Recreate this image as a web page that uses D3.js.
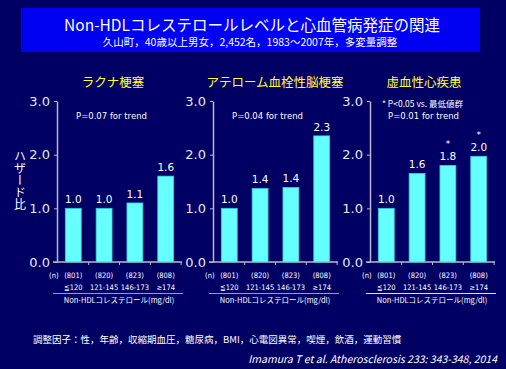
<!DOCTYPE html>
<html>
<head>
<meta charset="utf-8">
<script src="https://cdn.jsdelivr.net/npm/d3@7"></script>
<style>
  body { margin: 0; background: #000064; }
  text { font-family: "Noto Sans CJK JP", "Noto Sans", sans-serif; }
</style>
</head>
<body>
<div id="chart"></div>
<script>
// data
const groups = ["≦120", "121-145", "146-173", "≥174"];
const counts = ["(801)", "(820)", "(823)", "(808)"];
const panelTitles = ["ラクナ梗塞", "アテローム血栓性脳梗塞", "虚血性心疾患"];
const lacunar = [1.0, 1.0, 1.1, 1.6];
const atherothrombotic = [1.0, 1.37, 1.39, 2.35];
const coronary = [1.0, 1.65, 1.8, 1.97];
const lacunarLabels = ["1.0", "1.0", "1.1", "1.6"];
const atheroLabels = ["1.0", "1.4", "1.4", "2.3"];
const coronaryLabels = ["1.0", "1.6", "1.8", "2.0"];
const coronaryStars = [false, false, true, true];
const pTexts = ["P=0.07 for trend", "P=0.04 for trend", "P=0.01 for trend"];
const yTicks = [0, 1, 2, 3];

const width = 506, height = 369;

const svg = d3.select("#chart").append("svg")
  .attr("width", width)
  .attr("height", height);

svg.append("rect").attr("width", width).attr("height", height).attr("fill", "#000064");

// title box
svg.append("rect")
  .attr("x", 21).attr("y", 8).attr("width", 459).attr("height", 44)
  .attr("fill", "#0000f2");
svg.append("text")
  .attr("x", 252).attr("y", 31)
  .attr("text-anchor", "middle")
  .attr("fill", "white")
  .style("font-size", "15.5px")
  .text("Non-HDLコレステロールレベルと心血管病発症の関連");
svg.append("text")
  .attr("x", 250).attr("y", 46)
  .attr("text-anchor", "middle")
  .attr("fill", "white")
  .style("font-size", "10.5px")
  .text("久山町，40歳以上男女，2,452名，1983～2007年，多変量調整");

// y label, vertical
svg.append("text")
  .attr("x", 20).attr("y", 150)
  .attr("fill", "white")
  .style("font-size", "12px")
  .style("writing-mode", "vertical-rl")
  .text("ハザード比");

const y = d3.scaleLinear().domain([0, 3]).range([262, 101]);

const panels = [
  {x0: 57, vals: lacunar, labels: lacunarLabels, title: panelTitles[0], tx: 113},
  {x0: 213, vals: atherothrombotic, labels: atheroLabels, title: panelTitles[1], tx: 275},
  {x0: 370, vals: coronary, labels: coronaryLabels, title: panelTitles[2], tx: 424}
];

panels.forEach(function(p, pi) {
  const g = svg.append("g");

  const x = d3.scaleBand()
    .domain(groups)
    .range([p.x0, p.x0 + 125])
    .paddingInner(0.484)
    .paddingOuter(0.27);

  // panel title
  g.append("text")
    .attr("x", p.tx).attr("y", 87)
    .attr("text-anchor", "middle")
    .attr("fill", "#ffff33")
    .style("font-size", "12.5px")
    .text(p.title);

  // y axis
  const yAxis = g.append("g")
    .attr("transform", "translate(" + p.x0 + ",0)")
    .call(d3.axisLeft(y).tickValues(yTicks).tickFormat(d3.format(".1f")).tickSize(3).tickSizeOuter(0));
  yAxis.select(".domain").attr("stroke", "#b8b8cc").attr("stroke-width", 1.5);
  yAxis.selectAll(".tick line").attr("stroke", "#b8b8cc");
  yAxis.selectAll(".tick text")
    .attr("fill", "#e8e8f0")
    .attr("x", -7)
    .style("font-size", "13px")
    .style("font-family", "DejaVu Sans, sans-serif");

  // x axis line with ticks at band edges
  g.append("line")
    .attr("x1", p.x0 - 4).attr("x2", p.x0 + 125)
    .attr("y1", y(0)).attr("y2", y(0))
    .attr("stroke", "#b8b8cc").attr("stroke-width", 1.5);
  const step = x.step(), bw = x.bandwidth();
  g.selectAll(".xt")
    .data(groups)
    .enter().append("line")
    .attr("x1", d => x(d) + bw + (step - bw) / 2)
    .attr("x2", d => x(d) + bw + (step - bw) / 2)
    .attr("y1", y(0)).attr("y2", y(0) + 3)
    .attr("stroke", "#b8b8cc");

  // bars
  g.selectAll(".bar")
    .data(p.vals)
    .enter().append("rect")
    .attr("x", (d, i) => x(groups[i]))
    .attr("y", d => y(d))
    .attr("width", bw)
    .attr("height", d => y(0) - y(d))
    .attr("fill", "#66ffff")
    .attr("stroke", "#3cc8d8")
    .attr("stroke-width", 0.8);

  // value labels
  g.selectAll(".val")
    .data(p.vals)
    .enter().append("text")
    .attr("x", (d, i) => x(groups[i]) + bw / 2)
    .attr("y", d => y(d) - 5)
    .attr("text-anchor", "middle")
    .attr("fill", "white")
    .style("font-size", "10.5px")
    .style("font-family", "DejaVu Sans, sans-serif")
    .text((d, i) => p.labels[i]);

  if (pi === 2) {
    const starData = p.vals.map((v, i) => ({v: v, g: groups[i], star: coronaryStars[i]}))
      .filter(d => d.star);
    g.selectAll(".star")
      .data(starData)
      .enter().append("text")
      .attr("x", d => x(d.g) + bw / 2)
      .attr("y", d => y(d.v) - 18)
      .attr("text-anchor", "middle")
      .attr("fill", "white")
      .style("font-size", "9px")
      .style("font-family", "DejaVu Sans, sans-serif")
      .text("*");
    g.append("text")
      .attr("x", 382).attr("y", 107)
      .attr("fill", "white")
      .style("font-size", "8.5px")
      .text("* P<0.05 vs. 最低値群");
    g.append("text")
      .attr("x", 388).attr("y", 119)
      .attr("fill", "white")
      .style("font-size", "8.5px")
      .style("font-family", "DejaVu Sans, sans-serif")
      .text(pTexts[pi]);
  } else {
    g.append("text")
      .attr("x", p.x0 + 19).attr("y", 119)
      .attr("fill", "white")
      .style("font-size", "8.5px")
      .style("font-family", "DejaVu Sans, sans-serif")
      .text(pTexts[pi]);
  }

  // (n) and counts
  g.append("text")
    .attr("x", p.x0 - 8).attr("y", 278)
    .attr("fill", "white")
    .style("font-size", "7.5px")
    .style("font-family", "DejaVu Sans Condensed, sans-serif")
    .text("(n)");
  g.selectAll(".cnt")
    .data(counts)
    .enter().append("text")
    .attr("x", (d, i) => x(groups[i]) + bw / 2)
    .attr("y", 278)
    .attr("text-anchor", "middle")
    .attr("fill", "white")
    .style("font-size", "7.5px")
    .style("font-family", "DejaVu Sans Condensed, sans-serif")
    .text(d => d);
  g.selectAll(".grp")
    .data(groups)
    .enter().append("text")
    .attr("x", d => x(d) + bw / 2)
    .attr("y", 290)
    .attr("text-anchor", "middle")
    .attr("fill", "white")
    .style("font-size", "7.5px")
    .style("font-family", "DejaVu Sans Condensed, sans-serif")
    .text(d => d);

  g.append("line")
    .attr("x1", p.x0 - 4).attr("x2", p.x0 + 126)
    .attr("y1", 293.5).attr("y2", 293.5)
    .attr("stroke", pi === 2 ? "#e0e0f0" : "#9a9ab8")
    .attr("stroke-width", 1.2);
  g.append("text")
    .attr("x", p.x0 + 62).attr("y", 303)
    .attr("text-anchor", "middle")
    .attr("fill", "white")
    .style("font-size", "7.5px")
    .text("Non-HDLコレステロール(mg/dl)");
});

// footer
svg.append("text")
  .attr("x", 33).attr("y", 343)
  .attr("fill", "white")
  .style("font-size", "9.5px")
  .text("調整因子：性，年齢，収縮期血圧，糖尿病，BMI，心電図異常，喫煙，飲酒，運動習慣");
svg.append("text")
  .attr("x", 497).attr("y", 363)
  .attr("text-anchor", "end")
  .attr("fill", "white")
  .style("font-size", "10.5px")
  .style("font-style", "italic")
  .text("Imamura T et al. Atherosclerosis 233: 343-348, 2014");
</script>
</body>
</html>
